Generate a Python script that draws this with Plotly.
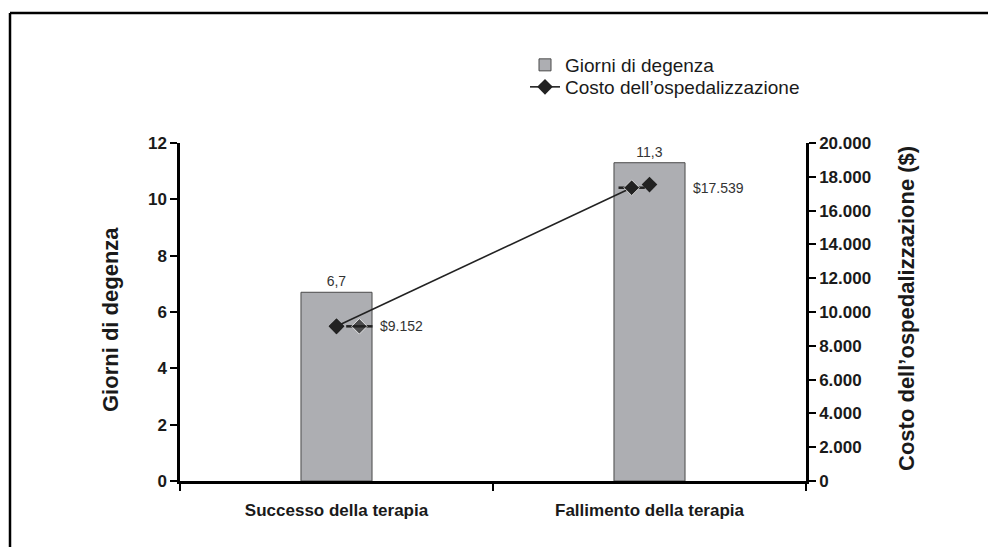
import plotly.graph_objects as go

# ---- data ----
categories = ["Successo della terapia", "Fallimento della terapia"]
giorni = [6.7, 11.3]            # Giorni di degenza (left axis)
costo = [9152, 17539]           # Costo dell'ospedalizzazione (right axis, $)
# stray "legend glyph" marks visible in the original picture
glyph_dx = [0.073, -0.057]      # offset from category centre (category units)
glyph_y = [9152, 17355]         # right-axis value of each glyph
glyph_half = 0.042              # half length of each glyph segment

left_ticks = list(range(0, 13, 2))
right_ticks = list(range(0, 20001, 2000))

FONT = "Liberation Sans, Arial, Helvetica, sans-serif"
INK = "#1a1a1a"
BAR = "#adaeb2"

xpos = list(range(len(categories)))

W, H = 988, 547
L, R, T, B = 180, 182, 143, 66
pw, ph = W - L - R, H - T - B

def px_x(p):
    return (p - L) / pw

def px_y(p):
    return (H - B - p) / ph

fig = go.Figure()

fig.add_trace(go.Bar(
    x=xpos, y=giorni, name="Giorni di degenza",
    width=0.227,
    marker=dict(color=BAR, line=dict(color="#4a4a4a", width=1)),
    texttemplate="%{y:.1f}", textposition="outside",
    textfont=dict(size=14, color="#333333", family=FONT),
    cliponaxis=False, legend="legend",
))

gx = [xpos[i] + glyph_dx[i] for i in range(len(xpos))]

# main cost line (as drawn in the original: from first point to the second glyph)
fig.add_trace(go.Scatter(
    x=[xpos[0], gx[1]], y=[costo[0], glyph_y[1]],
    mode="lines+markers", name="Costo dell\u2019ospedalizzazione",
    line=dict(color="#222222", width=1.6),
    marker=dict(symbol="diamond", size=12, color="#222222"),
    yaxis="y2", legend="legend2",
))

# cost data points at category centres
fig.add_trace(go.Scatter(
    x=xpos, y=costo, mode="markers", showlegend=False,
    marker=dict(symbol="diamond", size=12, color="#222222"),
    yaxis="y2",
))

# glyph segments
for i in range(len(xpos)):
    fig.add_trace(go.Scatter(
        x=[gx[i] - glyph_half, gx[i], gx[i] + glyph_half],
        y=[glyph_y[i]] * 3,
        mode="lines+markers", showlegend=False,
        line=dict(color="#222222", width=2.5),
        marker=dict(symbol="diamond", size=[0, 12, 0], color="#222222"),
        yaxis="y2",
    ))

annotations = []
for i in range(len(xpos)):
    annotations.append(dict(
        x=xpos[i] + 0.133, y=glyph_y[i], xref="x", yref="y2",
        text="$" + f"{costo[i]:,}".replace(",", "."),
        showarrow=False, xanchor="left", yanchor="middle",
        font=dict(size=14, color="#333333", family=FONT),
    ))

# axis titles
TITLE_FONT = dict(size=22, family=FONT, color=INK, weight="bold")
annotations.append(dict(
    x=px_x(110), y=px_y(320), xref="paper", yref="paper",
    text="Giorni di degenza", textangle=-90, showarrow=False,
    xanchor="center", yanchor="middle", font=TITLE_FONT,
))
annotations.append(dict(
    x=px_x(906), y=px_y(309), xref="paper", yref="paper",
    text="Costo dell\u2019ospedalizzazione ($)", textangle=-90, showarrow=False,
    xanchor="center", yanchor="middle", font=TITLE_FONT,
))

LEG_FONT = dict(size=19, family=FONT, color=INK)
TICK_FONT = dict(size=17, family=FONT, color=INK, weight="bold")

fig.update_layout(
    width=W, height=H,
    margin=dict(l=L, r=R, t=T, b=B),
    paper_bgcolor="white", plot_bgcolor="white",
    separators=",.",
    font=dict(family=FONT, color=INK),
    showlegend=True,
    legend=dict(
        x=px_x(525), y=px_y(46), xanchor="left", yanchor="top",
        bgcolor="rgba(0,0,0,0)", font=LEG_FONT, itemwidth=30,
    ),
    legend2=dict(
        x=px_x(525), y=px_y(68), xanchor="left", yanchor="top",
        bgcolor="rgba(0,0,0,0)", font=LEG_FONT, itemwidth=30,
    ),
    xaxis=dict(
        range=[-0.5, 1.5], tickvals=xpos, ticktext=categories,
        ticks="", showgrid=False, zeroline=False,
        showline=True, linecolor="black", linewidth=2.5,
        tickfont=TICK_FONT, ticklabelstandoff=12,
        minor=dict(tickvals=[-0.5, 0.5, 1.5], ticks="outside", ticklen=7,
                   tickwidth=2, tickcolor="black"),
    ),
    yaxis=dict(
        range=[0, 12], tickvals=left_ticks, ticks="outside", ticklen=7,
        tickwidth=2, tickcolor="black", showgrid=False, zeroline=False,
        showline=True, linecolor="black", linewidth=2.5,
        tickfont=TICK_FONT,
    ),
    yaxis2=dict(
        range=[0, 20000], tickvals=right_ticks, tickformat=",d",
        overlaying="y", side="right", ticks="outside", ticklen=7,
        tickwidth=2, tickcolor="black", showgrid=False, zeroline=False,
        showline=True, linecolor="black", linewidth=2.5,
        tickfont=TICK_FONT,
    ),
    annotations=annotations,
    shapes=[
        dict(type="line", xref="paper", yref="paper",
             x0=px_x(10), x1=px_x(1100), y0=px_y(13), y1=px_y(13),
             line=dict(color="black", width=2.5)),
        dict(type="line", xref="paper", yref="paper",
             x0=px_x(10), x1=px_x(10), y0=px_y(13), y1=px_y(700),
             line=dict(color="black", width=2.5)),
    ],
)

fig.write_html("out.html")
